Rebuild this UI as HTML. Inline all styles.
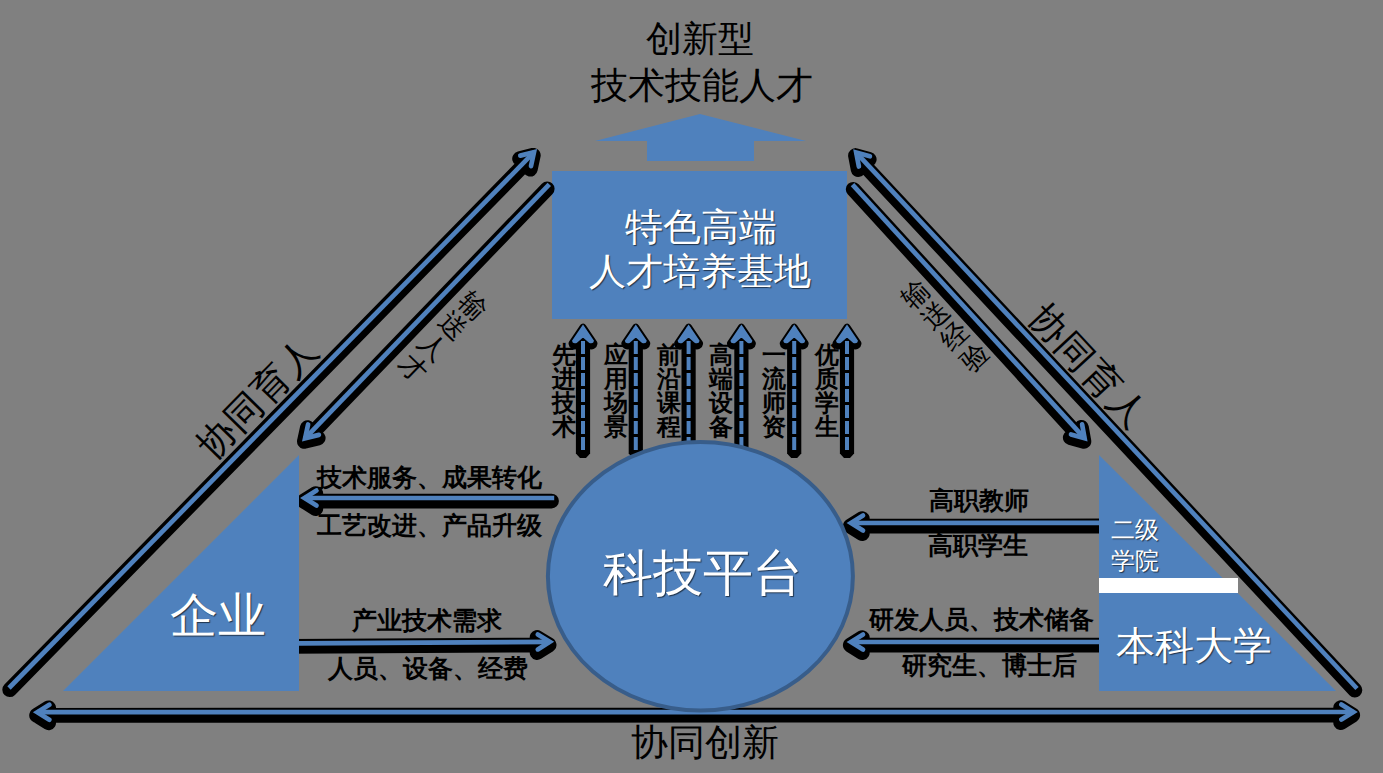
<!DOCTYPE html>
<html><head><meta charset="utf-8"><style>
html,body{margin:0;padding:0;background:#808080;width:1383px;height:773px;overflow:hidden}
.t{position:absolute;font-family:"Liberation Serif",serif;line-height:1;white-space:nowrap;text-align:center}
svg{position:absolute;left:0;top:0}
</style></head><body>
<svg width="1383" height="773" viewBox="0 0 1383 773">
<path d="M700 114 L806 141 L754 141 L754 161 L647 161 L647 141 L595 141 Z" fill="#4F81BD"/>
<rect x="552" y="171" width="295" height="148" fill="#4F81BD"/>
<path d="M10.4 686.6 L534.0 152.2 M531.0 166.1 L534.0 152.2 L520.3 155.6 " transform="translate(-0.7,3.1)" stroke="#000" stroke-width="14.8" fill="none" stroke-linecap="round" stroke-linejoin="round"/><path d="M9.0 688.0 L534.0 152.2" stroke="#4F81BD" stroke-width="4.7" fill="none" stroke-linecap="butt"/><path d="M531.0 166.1 L534.0 152.2 L520.3 155.6 " stroke="#4F81BD" stroke-width="4.7" fill="none" stroke-linecap="round" stroke-linejoin="miter" stroke-miterlimit="10"/>
<path d="M547.9 185.7 L305.1 438.3 M308.1 424.5 L305.1 438.3 L318.9 434.9 " transform="translate(-0.7,3.1)" stroke="#000" stroke-width="14.8" fill="none" stroke-linecap="round" stroke-linejoin="round"/><path d="M549.3 184.3 L305.1 438.3" stroke="#4F81BD" stroke-width="4.7" fill="none" stroke-linecap="butt"/><path d="M308.1 424.5 L305.1 438.3 L318.9 434.9 " stroke="#4F81BD" stroke-width="4.7" fill="none" stroke-linecap="round" stroke-linejoin="miter" stroke-miterlimit="10"/>
<path d="M1355.6 687.0 L856.2 152.6 M869.9 156.3 L856.2 152.6 L858.9 166.5 " transform="translate(-0.7,3.1)" stroke="#000" stroke-width="14.8" fill="none" stroke-linecap="round" stroke-linejoin="round"/><path d="M1357.0 688.5 L856.2 152.6" stroke="#4F81BD" stroke-width="4.7" fill="none" stroke-linecap="butt"/><path d="M869.9 156.3 L856.2 152.6 L858.9 166.5 " stroke="#4F81BD" stroke-width="4.7" fill="none" stroke-linecap="round" stroke-linejoin="miter" stroke-miterlimit="10"/>
<path d="M853.9 186.2 L1084.6 438.3 M1071.0 434.5 L1084.6 438.3 L1082.1 424.3 " transform="translate(-0.7,3.1)" stroke="#000" stroke-width="14.8" fill="none" stroke-linecap="round" stroke-linejoin="round"/><path d="M852.5 184.7 L1084.6 438.3" stroke="#4F81BD" stroke-width="4.7" fill="none" stroke-linecap="butt"/><path d="M1071.0 434.5 L1084.6 438.3 L1082.1 424.3 " stroke="#4F81BD" stroke-width="4.7" fill="none" stroke-linecap="round" stroke-linejoin="miter" stroke-miterlimit="10"/>
<path d="M552.2 498.0 L304.5 498.0 M316.5 490.5 L304.5 498.0 L316.5 505.5 " transform="translate(-0.7,3.1)" stroke="#000" stroke-width="14.8" fill="none" stroke-linecap="round" stroke-linejoin="round"/><path d="M554.2 498.0 L304.5 498.0" stroke="#4F81BD" stroke-width="4.7" fill="none" stroke-linecap="butt"/><path d="M316.5 490.5 L304.5 498.0 L316.5 505.5 " stroke="#4F81BD" stroke-width="4.7" fill="none" stroke-linecap="round" stroke-linejoin="miter" stroke-miterlimit="10"/>
<path d="M291.0 643.3 L549.8 641.8 M537.8 649.4 L549.8 641.8 L537.8 634.4 " transform="translate(-0.7,3.1)" stroke="#000" stroke-width="14.8" fill="none" stroke-linecap="round" stroke-linejoin="round"/><path d="M299.0 643.3 L549.8 641.8" stroke="#4F81BD" stroke-width="4.7" fill="none" stroke-linecap="butt"/><path d="M537.8 649.4 L549.8 641.8 L537.8 634.4 " stroke="#4F81BD" stroke-width="4.7" fill="none" stroke-linecap="round" stroke-linejoin="miter" stroke-miterlimit="10"/>
<path d="M1107.0 522.9 L851.0 523.0 M863.0 515.5 L851.0 523.0 L863.0 530.5 " transform="translate(-0.7,3.1)" stroke="#000" stroke-width="14.8" fill="none" stroke-linecap="round" stroke-linejoin="round"/><path d="M1099.0 522.9 L851.0 523.0" stroke="#4F81BD" stroke-width="4.7" fill="none" stroke-linecap="butt"/><path d="M863.0 515.5 L851.0 523.0 L863.0 530.5 " stroke="#4F81BD" stroke-width="4.7" fill="none" stroke-linecap="round" stroke-linejoin="miter" stroke-miterlimit="10"/>
<path d="M1107.0 642.0 L851.0 642.0 M863.0 634.5 L851.0 642.0 L863.0 649.5 " transform="translate(-0.7,3.1)" stroke="#000" stroke-width="14.8" fill="none" stroke-linecap="round" stroke-linejoin="round"/><path d="M1099.0 642.0 L851.0 642.0" stroke="#4F81BD" stroke-width="4.7" fill="none" stroke-linecap="butt"/><path d="M863.0 634.5 L851.0 642.0 L863.0 649.5 " stroke="#4F81BD" stroke-width="4.7" fill="none" stroke-linecap="round" stroke-linejoin="miter" stroke-miterlimit="10"/>
<path d="M575.9 338.4 L590.1 338.4 L590.1 453.5 L586.0 458.0 L580.0 458.0 L575.9 453.5 Z" fill="#000"/><path d="M583.0 324.4 L572.0 340.7 Q572.5 344.2 576.7 343.0 L583.0 337.4 L589.3 343.0 Q593.5 344.2 594.0 340.7 Z" transform="translate(0,2.7)" stroke="#000" stroke-width="7" fill="#000" stroke-linejoin="round"/><path d="M583.0 327.4 L583.0 450.0" stroke="#4F81BD" stroke-width="4" stroke-dasharray="13 3" stroke-dashoffset="2.5"/><path d="M583.0 324.4 L572.0 340.7 Q572.5 344.2 576.7 343.0 L583.0 337.4 L589.3 343.0 Q593.5 344.2 594.0 340.7 Z" fill="#4F81BD"/>
<path d="M628.7 338.4 L642.9 338.4 L642.9 453.5 L638.8 458.0 L632.8 458.0 L628.7 453.5 Z" fill="#000"/><path d="M635.8 324.4 L624.8 340.7 Q625.3 344.2 629.5 343.0 L635.8 337.4 L642.1 343.0 Q646.3 344.2 646.8 340.7 Z" transform="translate(0,2.7)" stroke="#000" stroke-width="7" fill="#000" stroke-linejoin="round"/><path d="M635.8 327.4 L635.8 450.0" stroke="#4F81BD" stroke-width="4" stroke-dasharray="13 3" stroke-dashoffset="2.5"/><path d="M635.8 324.4 L624.8 340.7 Q625.3 344.2 629.5 343.0 L635.8 337.4 L642.1 343.0 Q646.3 344.2 646.8 340.7 Z" fill="#4F81BD"/>
<path d="M681.5 338.4 L695.7 338.4 L695.7 453.5 L691.6 458.0 L685.6 458.0 L681.5 453.5 Z" fill="#000"/><path d="M688.6 324.4 L677.6 340.7 Q678.1 344.2 682.3 343.0 L688.6 337.4 L694.9 343.0 Q699.1 344.2 699.6 340.7 Z" transform="translate(0,2.7)" stroke="#000" stroke-width="7" fill="#000" stroke-linejoin="round"/><path d="M688.6 327.4 L688.6 450.0" stroke="#4F81BD" stroke-width="4" stroke-dasharray="13 3" stroke-dashoffset="2.5"/><path d="M688.6 324.4 L677.6 340.7 Q678.1 344.2 682.3 343.0 L688.6 337.4 L694.9 343.0 Q699.1 344.2 699.6 340.7 Z" fill="#4F81BD"/>
<path d="M734.3 338.4 L748.5 338.4 L748.5 453.5 L744.4 458.0 L738.4 458.0 L734.3 453.5 Z" fill="#000"/><path d="M741.4 324.4 L730.4 340.7 Q730.9 344.2 735.1 343.0 L741.4 337.4 L747.7 343.0 Q751.9 344.2 752.4 340.7 Z" transform="translate(0,2.7)" stroke="#000" stroke-width="7" fill="#000" stroke-linejoin="round"/><path d="M741.4 327.4 L741.4 450.0" stroke="#4F81BD" stroke-width="4" stroke-dasharray="13 3" stroke-dashoffset="2.5"/><path d="M741.4 324.4 L730.4 340.7 Q730.9 344.2 735.1 343.0 L741.4 337.4 L747.7 343.0 Q751.9 344.2 752.4 340.7 Z" fill="#4F81BD"/>
<path d="M787.1 338.4 L801.3 338.4 L801.3 453.5 L797.2 458.0 L791.2 458.0 L787.1 453.5 Z" fill="#000"/><path d="M794.2 324.4 L783.2 340.7 Q783.7 344.2 787.9 343.0 L794.2 337.4 L800.5 343.0 Q804.7 344.2 805.2 340.7 Z" transform="translate(0,2.7)" stroke="#000" stroke-width="7" fill="#000" stroke-linejoin="round"/><path d="M794.2 327.4 L794.2 450.0" stroke="#4F81BD" stroke-width="4" stroke-dasharray="13 3" stroke-dashoffset="2.5"/><path d="M794.2 324.4 L783.2 340.7 Q783.7 344.2 787.9 343.0 L794.2 337.4 L800.5 343.0 Q804.7 344.2 805.2 340.7 Z" fill="#4F81BD"/>
<path d="M839.9 338.4 L854.1 338.4 L854.1 453.5 L850.0 458.0 L844.0 458.0 L839.9 453.5 Z" fill="#000"/><path d="M847.0 324.4 L836.0 340.7 Q836.5 344.2 840.7 343.0 L847.0 337.4 L853.3 343.0 Q857.5 344.2 858.0 340.7 Z" transform="translate(0,2.7)" stroke="#000" stroke-width="7" fill="#000" stroke-linejoin="round"/><path d="M847.0 327.4 L847.0 450.0" stroke="#4F81BD" stroke-width="4" stroke-dasharray="13 3" stroke-dashoffset="2.5"/><path d="M847.0 324.4 L836.0 340.7 Q836.5 344.2 840.7 343.0 L847.0 337.4 L853.3 343.0 Q857.5 344.2 858.0 340.7 Z" fill="#4F81BD"/>
<path d="M37.3 712.2 L1353.4 712.0 M1341.4 719.5 L1353.4 712.0 L1341.4 704.5 M49.3 704.7 L37.3 712.2 L49.3 719.7" transform="translate(-0.7,3.1)" stroke="#000" stroke-width="14.8" fill="none" stroke-linecap="round" stroke-linejoin="round"/><path d="M37.3 712.2 L1353.4 712.0" stroke="#4F81BD" stroke-width="4.7" fill="none" stroke-linecap="butt"/><path d="M1341.4 719.5 L1353.4 712.0 L1341.4 704.5 M49.3 704.7 L37.3 712.2 L49.3 719.7" stroke="#4F81BD" stroke-width="4.7" fill="none" stroke-linecap="round" stroke-linejoin="miter" stroke-miterlimit="10"/>
<path d="M299 455 L299 691 L63 691 Z" fill="#4F81BD"/>
<path d="M1099 455 L1336 691 L1099 691 Z" fill="#4F81BD"/>
<rect x="1099" y="578" width="139" height="15" fill="#fff"/>
<ellipse cx="700.4" cy="576.3" rx="152.5" ry="134.2" fill="#4F81BD" stroke="#385D8A" stroke-width="4"/>
</svg>
<div class="t" style="left:646.2px;top:21.2px;width:108.0px;font-size:36.0px;color:#000;">创新型</div>
<div class="t" style="left:590.1px;top:66.5px;width:223.8px;font-size:37.3px;color:#000;">技术技能人才</div>
<div class="t" style="left:624.6px;top:208.5px;width:151.2px;font-size:37.8px;color:#fff;text-shadow:1px 1px 1px rgba(0,0,0,0.6);">特色高端</div>
<div class="t" style="left:588.6px;top:253.3px;width:223.2px;font-size:37.2px;color:#fff;text-shadow:1px 1px 1px rgba(0,0,0,0.6);">人才培养基地</div>
<div class="t" style="left:602.5px;top:549.3px;width:198.0px;font-size:49.5px;color:#fff;text-shadow:1px 1px 1px rgba(0,0,0,0.6);">科技平台</div>
<div class="t" style="left:169.6px;top:591.8px;width:96.0px;font-size:48.0px;color:#fff;text-shadow:1px 1px 1px rgba(0,0,0,0.6);">企业</div>
<div class="t" style="left:1115.9px;top:627.4px;width:154.0px;font-size:38.5px;color:#fff;text-shadow:1px 1px 1px rgba(0,0,0,0.6);">本科大学</div>
<div class="t" style="left:1111.0px;top:517.6px;width:48.0px;font-size:24.0px;color:#fff;text-shadow:1px 1px 1px rgba(0,0,0,0.6);">二级</div>
<div class="t" style="left:1111.0px;top:549.1px;width:48.0px;font-size:24.0px;color:#fff;text-shadow:1px 1px 1px rgba(0,0,0,0.6);">学院</div>
<div class="t" style="left:631.2px;top:723.8px;width:148.0px;font-size:37.0px;color:#000;">协同创新</div>
<div class="t" style="left:316.8px;top:464.8px;width:225.0px;font-size:25.0px;color:#000;font-weight:bold;">技术服务、成果转化</div>
<div class="t" style="left:316.8px;top:513.2px;width:225.0px;font-size:25.0px;color:#000;font-weight:bold;">工艺改进、产品升级</div>
<div class="t" style="left:352.1px;top:608.5px;width:148.2px;font-size:24.7px;color:#000;font-weight:bold;">产业技术需求</div>
<div class="t" style="left:327.6px;top:656.9px;width:197.6px;font-size:24.7px;color:#000;font-weight:bold;">人员、设备、经费</div>
<div class="t" style="left:928.6px;top:489.2px;width:98.0px;font-size:24.5px;color:#000;font-weight:bold;">高职教师</div>
<div class="t" style="left:928.4px;top:533.9px;width:98.0px;font-size:24.5px;color:#000;font-weight:bold;">高职学生</div>
<div class="t" style="left:869.0px;top:607.7px;width:224.1px;font-size:24.9px;color:#000;font-weight:bold;">研发人员、技术储备</div>
<div class="t" style="left:902.4px;top:653.9px;width:173.6px;font-size:24.8px;color:#000;font-weight:bold;">研究生、博士后</div>
<div class="t" style="left:552.0px;top:343.0px;width:24.0px;height:96.0px;font-size:24.0px;line-height:24.0px;transform:rotate(0.0deg);transform-origin:50% 50%;color:#000;font-weight:bold;">先<br>进<br>技<br>术</div>
<div class="t" style="left:604.0px;top:343.0px;width:24.0px;height:96.0px;font-size:24.0px;line-height:24.0px;transform:rotate(0.0deg);transform-origin:50% 50%;color:#000;font-weight:bold;">应<br>用<br>场<br>景</div>
<div class="t" style="left:657.2px;top:343.0px;width:24.0px;height:96.0px;font-size:24.0px;line-height:24.0px;transform:rotate(0.0deg);transform-origin:50% 50%;color:#000;font-weight:bold;">前<br>沿<br>课<br>程</div>
<div class="t" style="left:709.4px;top:343.0px;width:24.0px;height:96.0px;font-size:24.0px;line-height:24.0px;transform:rotate(0.0deg);transform-origin:50% 50%;color:#000;font-weight:bold;">高<br>端<br>设<br>备</div>
<div class="t" style="left:762.2px;top:343.0px;width:24.0px;height:96.0px;font-size:24.0px;line-height:24.0px;transform:rotate(0.0deg);transform-origin:50% 50%;color:#000;font-weight:bold;">一<br>流<br>师<br>资</div>
<div class="t" style="left:814.6px;top:343.0px;width:24.0px;height:96.0px;font-size:24.0px;line-height:24.0px;transform:rotate(0.0deg);transform-origin:50% 50%;color:#000;font-weight:bold;">优<br>质<br>学<br>生</div>
<div class="t" style="left:180.7px;top:379.4px;width:153.6px;height:37.0px;font-size:37.0px;letter-spacing:1.4px;transform:rotate(-45.6deg);transform-origin:50% 50%;color:#000;">协同育人</div>
<div class="t" style="left:1012.2px;top:347.8px;width:153.6px;height:37.0px;font-size:37.0px;letter-spacing:1.4px;transform:rotate(47.0deg);transform-origin:50% 50%;color:#000;">协同育人</div>
<div class="t" style="left:428.9px;top:279.3px;width:27.0px;height:116.0px;font-size:27.0px;line-height:29.0px;transform:rotate(44.3deg);transform-origin:50% 50%;color:#000;">输<br>送<br>人<br>才</div>
<div class="t" style="left:931.9px;top:267.5px;width:27.0px;height:116.0px;font-size:27.0px;line-height:29.0px;transform:rotate(-43.0deg);transform-origin:50% 50%;color:#000;">输<br>送<br>经<br>验</div>
</body></html>
